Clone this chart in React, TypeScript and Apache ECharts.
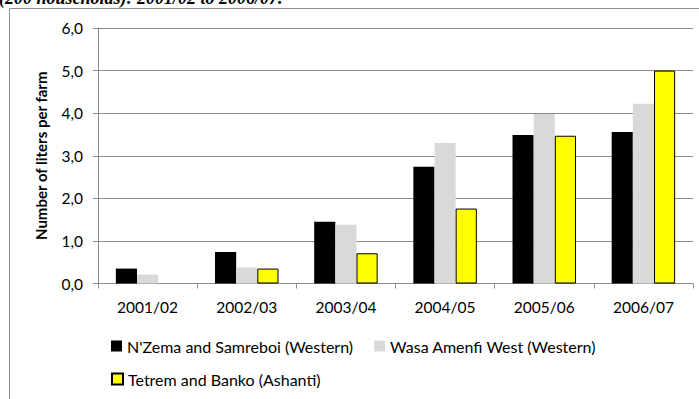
import React, { useEffect, useRef } from "react";
import * as echarts from "echarts";

const categories = ["2001/02", "2002/03", "2003/04", "2004/05", "2005/06", "2006/07"];
const nzema = [0.35, 0.74, 1.45, 2.74, 3.49, 3.56];
const wasa = [0.21, 0.38, 1.38, 3.3, 3.98, 4.22];
const tetrem = [null, 0.35, 0.71, 1.76, 3.47, 5.0];
const seriesNames = [
  "N'Zema and Samreboi (Western)",
  "Wasa Amenfi West (Western)",
  "Tetrem and Banko (Ashanti)",
];
const titleText = "(200 households): 2001/02 to 2006/07.";
const yAxisTitle = "Number of liters per farm";

const FONT = "Lato, 'Open Sans', sans-serif";

export default function App() {
  const ref = useRef<HTMLDivElement>(null);
  useEffect(() => {
    if (!ref.current) return;
    const chart = echarts.init(ref.current, undefined, { renderer: "svg" });
    chart.setOption({
      animation: false,
      backgroundColor: "#ffffff",
      textStyle: { fontFamily: FONT },
      graphic: [
        {
          type: "rect",
          shape: { x: 9.5, y: 8.5, width: 720, height: 420 },
          style: { fill: "none", stroke: "#8c8c8c", lineWidth: 1 },
          silent: true,
        },
        {
          type: "text",
          x: -1,
          y: -11,
          style: {
            text: titleText,
            font: "italic bold 18px 'Liberation Serif', serif",
            fill: "#000",
          },
        },
      ],
      grid: { left: 98, top: 28, right: 6, bottom: 115.5, containLabel: false },
      legend: [
        {
          data: [seriesNames[0], seriesNames[1]],
          left: 106,
          top: 333,
          icon: "rect",
          itemWidth: 11,
          itemHeight: 11,
          itemGap: 21,
          textStyle: { fontSize: 16, color: "#000", fontFamily: FONT },
        },
        {
          data: [seriesNames[2]],
          left: 106,
          top: 366,
          icon: "rect",
          itemWidth: 11,
          itemHeight: 11,
          textStyle: { fontSize: 16, color: "#000", fontFamily: FONT },
        },
      ],
      xAxis: {
        type: "category",
        data: categories,
        axisLine: { lineStyle: { color: "#8c8c8c" } },
        axisTick: { show: true, length: 5, lineStyle: { color: "#8c8c8c" } },
        axisLabel: { color: "#000", fontSize: 15.5, margin: 15, fontFamily: FONT },
      },
      yAxis: {
        type: "value",
        min: 0,
        max: 6,
        interval: 1,
        name: yAxisTitle,
        nameLocation: "middle",
        nameGap: 50,
        nameTextStyle: { fontSize: 15, fontWeight: "bold", color: "#000", fontFamily: FONT },
        axisLine: { show: true, lineStyle: { color: "#8c8c8c" } },
        axisTick: { show: true, length: 5, lineStyle: { color: "#8c8c8c" } },
        axisLabel: {
          color: "#000",
          fontSize: 15.5,
          margin: 15,
          fontFamily: FONT,
          formatter: (v: number) => v.toFixed(1).replace(".", ","),
        },
        splitLine: { lineStyle: { color: "#8c8c8c" } },
      },
      series: [
        {
          name: seriesNames[0],
          type: "bar",
          data: nzema,
          barGap: "0%",
          barCategoryGap: "36%",
          itemStyle: { color: "#000000" },
        },
        {
          name: seriesNames[1],
          type: "bar",
          data: wasa,
          itemStyle: { color: "#d9d9d9" },
        },
        {
          name: seriesNames[2],
          type: "bar",
          data: tetrem,
          itemStyle: { color: "#ffff00", borderColor: "#000", borderWidth: 1 },
        },
      ],
    });
    return () => chart.dispose();
  }, []);
  return (
    <div
      ref={ref}
      style={{ position: "fixed", left: 0, top: 0, width: 699, height: 399 }}
    />
  );
}
